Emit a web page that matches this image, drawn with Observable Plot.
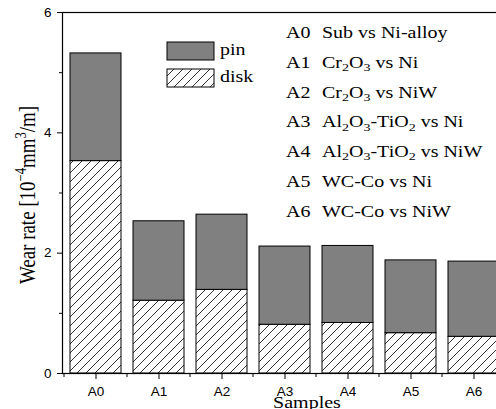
<!DOCTYPE html>
<html>
<head>
<meta charset="utf-8">
<script src="https://cdn.jsdelivr.net/npm/d3@7"></script>
<script src="https://cdn.jsdelivr.net/npm/@observablehq/plot@0.6"></script>
<style>
  html, body { margin: 0; padding: 0; background: #fff; overflow: hidden; }
  #chart svg { max-width: none !important; height: 409px !important; }
  svg text { fill: #000; }
</style>
</head>
<body>
<div id="chart"></div>
<script>
// Wear rate per sample, split into disk and pin contributions (10^-4 mm^3/m)
const samples = ["A0", "A1", "A2", "A3", "A4", "A5", "A6"];
const disk = [3.53, 1.21, 1.39, 0.81, 0.84, 0.67, 0.61];
const pin  = [1.79, 1.32, 1.25, 1.30, 1.28, 1.21, 1.25];

const yMajorTicks = [0, 2, 4, 6];
const yMinorTicks = [1, 3, 5];

const seriesNames = ["pin", "disk"];
// Sample descriptions; "_n" marks a subscript digit
const descriptions = [
  "Sub vs Ni-alloy",
  "Cr_2O_3 vs Ni",
  "Cr_2O_3 vs NiW",
  "Al_2O_3-TiO_2 vs Ni",
  "Al_2O_3-TiO_2 vs NiW",
  "WC-Co vs Ni",
  "WC-Co vs NiW"
];

const rows = samples.map((s, i) => ({sample: s, disk: disk[i], total: disk[i] + pin[i]}));

const W = 530, H = 409;
const chart = Plot.plot({
  width: W,
  height: H,
  marginLeft: 62,
  marginRight: 24,
  marginTop: 12,
  marginBottom: 36,
  style: {fontFamily: "'Liberation Sans', Arial, sans-serif", fontSize: "13.5px", color: "#000", background: "#fff", overflow: "visible", maxWidth: "none"},
  x: {domain: samples, paddingInner: 0.195, paddingOuter: 0.0975, label: null},
  y: {domain: [0, 6], label: null},
  marks: [
    Plot.barY(rows, {x: "sample", y1: 0, y2: "disk", fill: "url(#hatch)", stroke: "#000", strokeWidth: 1}),
    Plot.barY(rows, {x: "sample", y1: "disk", y2: "total", fill: "#808080", stroke: "#000", strokeWidth: 1}),
    Plot.frame({stroke: "#000", strokeWidth: 1.2}),
    Plot.axisY({ticks: yMajorTicks, tickSize: 5, tickPadding: 6, tickFormat: d3.format("d"), label: null, stroke: "#000"}),
    Plot.axisY({ticks: yMinorTicks, tickSize: 3, tickFormat: () => "", label: null, stroke: "#000"}),
    Plot.axisX({tickSize: 6, tickPadding: 7, label: null, stroke: "#000"})
  ]
});
document.getElementById("chart").appendChild(chart);

const svg = d3.select(chart);

// Diagonal hatch used for the disk segments and its legend swatch
const defs = svg.insert("defs", ":first-child");
defs.append("pattern")
  .attr("id", "hatch")
  .attr("patternUnits", "userSpaceOnUse")
  .attr("width", 9).attr("height", 9)
  .call(p => p.append("rect").attr("width", 9).attr("height", 9).attr("fill", "#fff"))
  .append("path")
  .attr("d", "M-1,1 l2,-2 M0,9 l9,-9 M8,10 l2,-2")
  .attr("stroke", "#000").attr("stroke-width", 0.8);

// Minor x ticks at the band boundaries
const xs = chart.scale("x");
const yScale = chart.scale("y");
const y0 = yScale.apply(0);
const step = xs.step;
const firstEdge = xs.apply(samples[0]) - (step - xs.bandwidth) / 2;
const minor = svg.append("g").attr("stroke", "#000");
for (let k = 0; k <= samples.length; k++) {
  const x = firstEdge + k * step;
  minor.append("line").attr("x1", x).attr("x2", x).attr("y1", y0).attr("y2", y0 + 4);
}

const serif = "'Liberation Serif', 'Times New Roman', serif";
const squash = 0.79;

// Writes text with "_n" subscripts into a text element
function richText(sel, str, size) {
  const parts = str.split(/(_\d)/).filter(d => d !== "");
  let shifted = false;
  parts.forEach(p => {
    if (p.startsWith("_")) {
      sel.append("tspan").attr("font-size", size * 0.7).attr("dy", shifted ? 0 : 4).text(p.slice(1));
      shifted = true;
    } else {
      sel.append("tspan").attr("dy", shifted ? -4 : 0).text(p);
      shifted = false;
    }
  });
}

function label(x, y, size) {
  return svg.append("text")
    .attr("transform", `translate(${x},${y}) scale(1,${squash})`)
    .attr("font-family", serif)
    .attr("font-size", size)
    .attr("font-weight", "normal")
    .attr("text-anchor", "start");
}

// Series legend
const swatchFill = {pin: "#808080", disk: "url(#hatch)"};
seriesNames.forEach((name, i) => {
  const top = 42 + i * 27;
  svg.append("rect")
    .attr("x", 167).attr("y", top).attr("width", 47).attr("height", 18)
    .attr("fill", swatchFill[name]).attr("stroke", "#000").attr("stroke-width", 1);
  label(220, top + 13, 20).text(name);
});

// Sample key
samples.forEach((s, i) => {
  const base = 38 + i * 29.8;
  label(286, base, 20).text(s);
  richText(label(322, base, 20), descriptions[i], 20);
});

// Axis titles
const yTitle = svg.append("text")
  .attr("transform", `translate(35,195) scale(1,${squash}) rotate(-90)`)
  .attr("font-family", serif)
  .attr("font-size", 24)
  .attr("text-anchor", "middle");
yTitle.append("tspan").text("Wear rate [10");
yTitle.append("tspan").attr("font-size", 16).attr("dy", -9).text("\u22124");
yTitle.append("tspan").attr("dy", 9).text("mm");
yTitle.append("tspan").attr("font-size", 16).attr("dy", -9).text("3");
yTitle.append("tspan").attr("dy", 9).text("/m]");

label(307, 408, 20).attr("text-anchor", "middle").text("Samples");
</script>
</body>
</html>
